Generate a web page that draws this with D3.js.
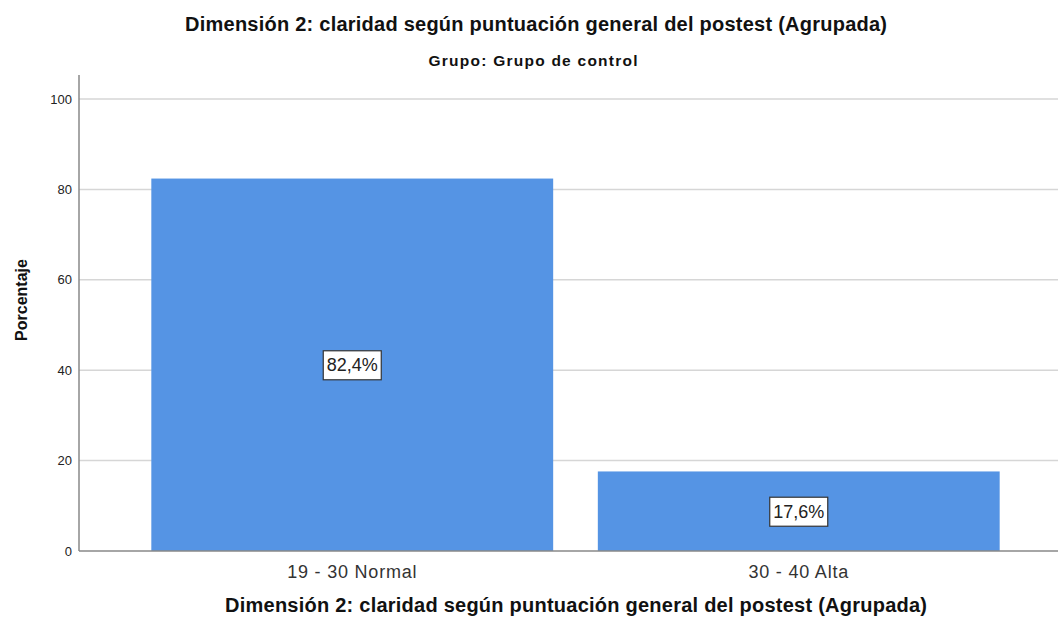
<!DOCTYPE html>
<html lang="es">
<head>
<meta charset="utf-8">
<title>Dimensión 2</title>
<script src="https://d3js.org/d3.v7.min.js"></script>
<style>
  body { margin: 0; background: #fff; }
  text { font-family: "Liberation Sans", Arial, sans-serif; }
</style>
</head>
<body>
<script>
const categories = ['19 - 30 Normal', '30 - 40 Alta'];
const percentages = [82.4, 17.6];
const valueLabels = ['82,4%', '17,6%'];
const yTicks = [0, 20, 40, 60, 80, 100];
const titleText = 'Dimensión 2: claridad según puntuación general del postest (Agrupada)';

const w = 1058, h = 623;
const plotLeft = 79, plotRight = 1058, plotTop = 75, plotBottom = 551;

const svg = d3.select('body').append('svg')
  .attr('width', w)
  .attr('height', h);

const x = d3.scaleBand()
  .domain(categories)
  .range([129, 1022])
  .paddingInner(0.1)
  .paddingOuter(0.05);

const y = d3.scaleLinear()
  .domain([0, 100])
  .range([plotBottom, 99]);

// gridlines
svg.append('g')
  .selectAll('line')
  .data(yTicks.filter(d => d > 0))
  .enter().append('line')
  .attr('x1', plotLeft).attr('x2', plotRight)
  .attr('y1', d => y(d)).attr('y2', d => y(d))
  .attr('stroke', '#d6d6d6')
  .attr('stroke-width', 1.5);

// bars
svg.selectAll('rect.bar')
  .data(percentages)
  .enter().append('rect')
  .attr('class', 'bar')
  .attr('x', (d, i) => x(categories[i]))
  .attr('y', d => y(d))
  .attr('width', x.bandwidth())
  .attr('height', d => y(0) - y(d))
  .attr('fill', '#5594e4');

// y axis
const yAxis = d3.axisLeft(y).tickValues(yTicks).tickSize(0).tickPadding(7);
const gy = svg.append('g')
  .attr('transform', 'translate(' + plotLeft + ',0)')
  .call(yAxis);
gy.select('.domain').remove();
gy.selectAll('text').attr('font-size', 13).attr('fill', '#222')
  .style('font-family', '"Liberation Sans", Arial, sans-serif');
svg.append('line')
  .attr('x1', plotLeft).attr('x2', plotLeft)
  .attr('y1', plotTop).attr('y2', plotBottom)
  .attr('stroke', '#888').attr('stroke-width', 1.5);

// x axis
const xAxis = d3.axisBottom(x).tickSize(0).tickPadding(14);
const gx = svg.append('g')
  .attr('transform', 'translate(0,' + plotBottom + ')')
  .call(xAxis);
gx.select('.domain').remove();
gx.selectAll('text').attr('font-size', 18).attr('fill', '#333')
  .style('letter-spacing', '0.8px')
  .style('font-family', '"Liberation Sans", Arial, sans-serif');
svg.append('line')
  .attr('x1', plotLeft).attr('x2', plotRight)
  .attr('y1', plotBottom).attr('y2', plotBottom)
  .attr('stroke', '#888').attr('stroke-width', 1.5);

// value labels
const labels = svg.append('g').selectAll('g')
  .data(percentages)
  .enter().append('g')
  .attr('transform', (d, i) => 'translate(' + (x(categories[i]) + x.bandwidth() / 2) + ',' + ((y(d) + y(0)) / 2) + ')');
labels.append('rect')
  .attr('x', -29).attr('y', -14)
  .attr('width', 58).attr('height', 29)
  .attr('fill', '#fff')
  .attr('stroke', '#333')
  .attr('stroke-width', 1.2);
labels.append('text')
  .attr('text-anchor', 'middle')
  .attr('dy', '0.36em')
  .attr('font-size', 18)
  .attr('fill', '#222')
  .text((d, i) => valueLabels[i]);

// titles
svg.append('text')
  .attr('x', 536).attr('y', 31)
  .attr('text-anchor', 'middle')
  .attr('font-size', 20)
  .attr('font-weight', 'bold')
  .attr('textLength', 702)
  .attr('lengthAdjust', 'spacing')
  .attr('fill', '#111')
  .text(titleText);
svg.append('text')
  .attr('x', 533).attr('y', 66)
  .attr('text-anchor', 'middle')
  .attr('font-size', 15.5)
  .attr('font-weight', 'bold')
  .attr('textLength', 209)
  .attr('lengthAdjust', 'spacing')
  .attr('fill', '#111')
  .text('Grupo: Grupo de control');
svg.append('text')
  .attr('transform', 'translate(27,300) rotate(-90)')
  .attr('text-anchor', 'middle')
  .attr('font-size', 16)
  .attr('font-weight', 'bold')
  .attr('fill', '#111')
  .text('Porcentaje');
svg.append('text')
  .attr('x', 576).attr('y', 612)
  .attr('text-anchor', 'middle')
  .attr('font-size', 20)
  .attr('font-weight', 'bold')
  .attr('textLength', 702)
  .attr('lengthAdjust', 'spacing')
  .attr('fill', '#111')
  .text(titleText);
</script>
</body>
</html>
